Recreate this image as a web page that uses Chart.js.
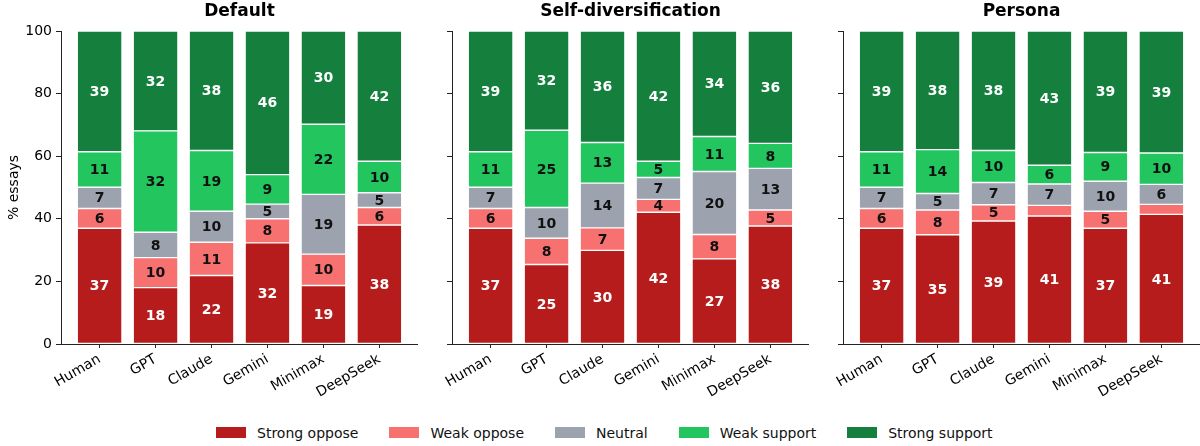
<!DOCTYPE html>
<html><head><meta charset="utf-8">
<script src="https://cdn.jsdelivr.net/npm/chart.js@4/dist/chart.umd.min.js"></script>
<style>
html,body{margin:0;padding:0;background:#fff;}
body{width:1200px;height:446px;position:relative;overflow:hidden;font-family:"DejaVu Sans",sans-serif;}
.panel{position:absolute;top:0;width:418px;height:405px;}
#legend{position:absolute;top:424px;left:216px;display:flex;align-items:center;font-size:14px;color:#111;white-space:nowrap;height:17px;}
#legend .item{display:flex;align-items:center;margin-right:31px;}
#legend .box{width:30px;height:11px;margin-right:11px;}
</style>
</head><body>
<div class="panel" style="left:0px"><canvas id="c0" width="418" height="405"></canvas></div>
<div class="panel" style="left:391px"><canvas id="c1" width="418" height="405"></canvas></div>
<div class="panel" style="left:782px"><canvas id="c2" width="418" height="405"></canvas></div>
<div id="legend"></div>
<script>
const categories = ['Human','GPT','Claude','Gemini','Minimax','DeepSeek'];
const stanceLabels = ['Strong oppose','Weak oppose','Neutral','Weak support','Strong support'];
const panelTitles = ['Default','Self-diversification','Persona'];
const yTicks = [0,20,40,60,80,100];

const defaultStrongOppose = [37.0, 18.0, 21.9, 32.3, 18.7, 38.0];
const defaultWeakOppose   = [6.3, 9.6, 10.6, 7.7, 10.0, 5.6];
const defaultNeutral      = [6.8, 8.1, 9.9, 4.7, 19.1, 4.7];
const defaultWeakSupport  = [11.3, 32.4, 19.4, 9.4, 22.4, 10.1];
const defaultStrongSupport= [38.6, 31.9, 38.2, 45.9, 29.8, 41.6];

const selfStrongOppose = [37.0, 25.4, 29.9, 42.1, 27.2, 37.7];
const selfWeakOppose   = [6.3, 8.4, 7.2, 4.1, 7.8, 5.1];
const selfNeutral      = [6.8, 9.8, 14.3, 7.0, 20.1, 13.3];
const selfWeakSupport  = [11.3, 24.7, 13.0, 5.2, 11.2, 8.0];
const selfStrongSupport= [38.6, 31.7, 35.6, 41.6, 33.7, 35.9];

const personaStrongOppose = [37.0, 34.9, 39.3, 40.9, 37.0, 41.4];
const personaWeakOppose   = [6.3, 7.9, 5.2, 3.4, 5.4, 3.2];
const personaNeutral      = [6.8, 5.3, 7.1, 6.8, 9.6, 6.4];
const personaWeakSupport  = [11.3, 14.0, 10.2, 6.0, 9.2, 10.0];
const personaStrongSupport= [38.6, 37.9, 38.2, 42.9, 38.8, 39.0];

const panelData = [
  [defaultStrongOppose, defaultWeakOppose, defaultNeutral, defaultWeakSupport, defaultStrongSupport],
  [selfStrongOppose, selfWeakOppose, selfNeutral, selfWeakSupport, selfStrongSupport],
  [personaStrongOppose, personaWeakOppose, personaNeutral, personaWeakSupport, personaStrongSupport]
];

const stanceColors = ['#b71c1c','#f87171','#9ca3af','#22c55e','#15803d'];
const labelColors = ['#ffffff','#111111','#111111','#111111','#ffffff'];

Chart.defaults.font.family = '"DejaVu Sans", sans-serif';
Chart.defaults.font.size = 14;
Chart.defaults.color = '#000';

const segLabels = {
  id: 'segLabels',
  afterDatasetsDraw(chart) {
    const ctx = chart.ctx;
    chart.data.datasets.forEach((ds, di) => {
      const meta = chart.getDatasetMeta(di);
      meta.data.forEach((bar, i) => {
        const v = ds.data[i].y;
        if (v < 3.5) return;
        const p = bar.getProps(['x','y','base'], true);
        ctx.save();
        ctx.font = 'bold 14px "DejaVu Sans", sans-serif';
        ctx.fillStyle = ds.labelColor;
        ctx.textAlign = 'center';
        ctx.textBaseline = 'middle';
        ctx.fillText(String(Math.round(v)), p.x, (p.y + p.base) / 2 + 1);
        ctx.restore();
      });
    });
  }
};

const panelTitle = {
  id: 'panelTitle',
  afterDraw(chart, args, opts) {
    const ctx = chart.ctx;
    const a = chart.chartArea;
    ctx.save();
    ctx.font = 'bold 17px "DejaVu Sans", sans-serif';
    ctx.fillStyle = '#000';
    ctx.textAlign = 'center';
    ctx.textBaseline = 'middle';
    ctx.fillText(opts.text, (a.left + a.right) / 2, 12);
    ctx.restore();
  }
};

panelData.forEach((series, pi) => {
  const datasets = series.map((vals, si) => ({
    label: stanceLabels[si],
    data: vals.map((v, i) => ({x: i, y: v})),
    backgroundColor: stanceColors[si],
    borderColor: '#ffffff',
    borderWidth: 0.7,
    borderSkipped: false,
    labelColor: labelColors[si],
    barPercentage: 0.8,
    categoryPercentage: 1.0
  }));
  new Chart(document.getElementById('c' + pi), {
    type: 'bar',
    data: { datasets },
    plugins: [segLabels, panelTitle],
    options: {
      responsive: false,
      animation: false,
      layout: { padding: { top: 31, left: 0, right: 0, bottom: 0 } },
      plugins: {
        legend: { display: false },
        tooltip: { enabled: false },
        title: { display: false },
        panelTitle: { text: panelTitles[pi] }
      },
      scales: {
        x: {
          type: 'linear',
          offset: false,
          stacked: true,
          min: -0.69,
          max: 5.69,
          afterBuildTicks: (axis) => { axis.ticks = categories.map((c, i) => ({ value: i })); },
          afterFit: (axis) => { axis.height = 61; },
          ticks: {
            callback: (v) => categories[v],
            minRotation: 30,
            maxRotation: 30,
            autoSkip: false,
            padding: 3,
            color: '#000',
            font: { size: 14 }
          },
          grid: { offset: false, drawOnChartArea: false, drawTicks: true, tickLength: 4, color: '#222', lineWidth: 1 },
          border: { display: true, color: '#222', width: 1 }
        },
        y: {
          stacked: true,
          min: 0,
          max: 100,
          afterBuildTicks: (axis) => { axis.ticks = yTicks.map(v => ({ value: v })); },
          afterFit: (axis) => { axis.width = 61; },
          ticks: {
            display: pi === 0,
            padding: 4,
            color: '#000',
            font: { size: 14 }
          },
          title: {
            display: pi === 0,
            text: '% essays',
            color: '#000',
            font: { size: 14 },
            padding: { top: 6, bottom: 0 }
          },
          grid: { drawOnChartArea: false, drawTicks: true, tickLength: 5, color: '#222', lineWidth: 1 },
          border: { display: true, color: '#222', width: 1 }
        }
      }
    }
  });
});

const legend = document.getElementById('legend');
stanceLabels.forEach((name, si) => {
  const item = document.createElement('div');
  item.className = 'item';
  const box = document.createElement('span');
  box.className = 'box';
  box.style.background = stanceColors[si];
  const txt = document.createElement('span');
  txt.textContent = name;
  item.appendChild(box);
  item.appendChild(txt);
  legend.appendChild(item);
});
</script>
</body></html>
